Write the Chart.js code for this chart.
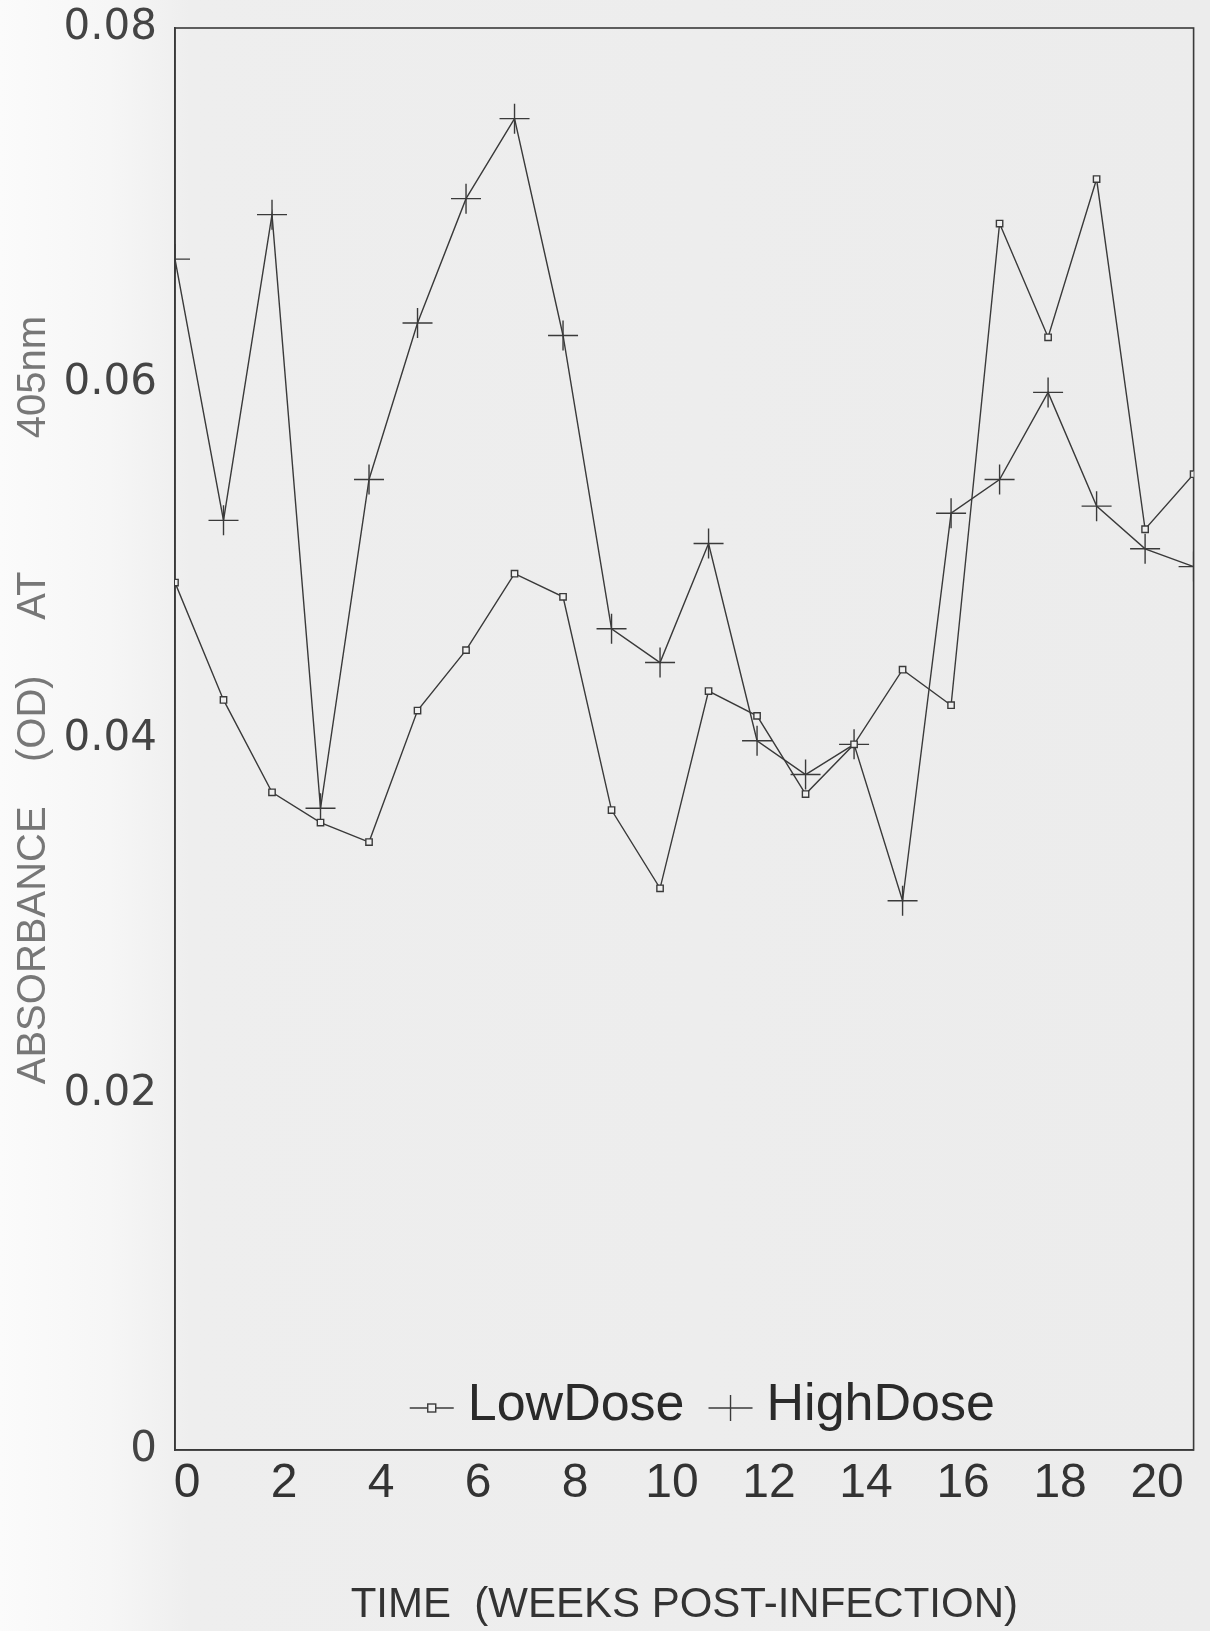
<!DOCTYPE html>
<html>
<head>
<meta charset="utf-8">
<script src="https://cdn.jsdelivr.net/npm/chart.js@4/dist/chart.umd.min.js"></script>
<style>
  html, body { margin: 0; padding: 0; }
  body {
    width: 1210px; height: 1631px; overflow: hidden;
    background: linear-gradient(to right, #fbfbfb 0px, #f6f6f6 110px, #eeeeee 190px, #ececec 100%);
  }
  canvas { display: block; }
</style>
</head>
<body>
<canvas id="c" width="1210" height="1631"></canvas>
<script>
// ---- data ----
const weeks = [0,1,2,3,4,5,6,7,8,9,10,11,12,13,14,15,16,17,18,19,20,21];
const lowDose = [0.0488,0.0422,0.0370,0.0353,0.0342,0.0416,0.0450,0.0493,0.0480,0.0360,0.0316,
                 0.0427,0.0413,0.0369,0.0397,0.0439,0.0419,0.0690,0.0626,0.0715,0.0518,0.0549];
const highDose = [0.0670,0.0523,0.0695,0.0361,0.0546,0.0634,0.0704,0.0749,0.0627,0.0462,0.0443,
                  0.0510,0.0399,0.0380,0.0397,0.0309,0.0527,0.0546,0.0595,0.0531,0.0507,0.0497];
const seriesNames = ['LowDose', 'HighDose'];
const xTickValues = [0,2,4,6,8,10,12,14,16,18,20];
const xTitle = 'TIME  (WEEKS POST-INFECTION)';
const yTitle = '       ABSORBANCE    (OD)     AT            405nm';
const xMax = 21;
const yMax = 0.08;
const yStep = 0.02;

const ink = '#3a3a3a';
const pts = (ys) => weeks.map((w, i) => ({x: w, y: ys[i]}));

const framePlugin = {
  id: 'frame',
  beforeDatasetsDraw(chart) {
    const a = chart.chartArea, ctx = chart.ctx;
    ctx.save();
    ctx.strokeStyle = ink;
    ctx.lineWidth = 1.6;
    ctx.strokeRect(a.left, a.top, a.right - a.left, a.bottom - a.top);
    ctx.restore();
  }
};

const innerLegend = {
  id: 'innerLegend',
  afterDatasetsDraw(chart) {
    const ctx = chart.ctx, a = chart.chartArea;
    const font = '52px "Liberation Sans", Arial, sans-serif';
    ctx.save();
    ctx.font = font;
    const lineW = 44, gapAfterLine = 14, gapItems = 24;
    const items = chart.data.datasets.map(ds => ({ds, tw: ctx.measureText(ds.label).width}));
    const total = items.reduce((s, it) => s + lineW + gapAfterLine + it.tw, 0) + gapItems * (items.length - 1);
    let x = (a.left + a.right) / 2 + 18 - total / 2;
    const y = a.bottom - 42;
    items.forEach((it) => {
      const ds = it.ds;
      ctx.strokeStyle = ink; ctx.lineWidth = 1.4;
      ctx.beginPath(); ctx.moveTo(x, y); ctx.lineTo(x + lineW, y); ctx.stroke();
      const cx = x + lineW / 2;
      if (ds.pointStyle === 'rect') {
        ctx.fillStyle = '#f0f0f0';
        ctx.fillRect(cx - 4, y - 4, 8, 8);
        ctx.strokeRect(cx - 4, y - 4, 8, 8);
      } else {
        ctx.beginPath();
        ctx.moveTo(cx, y - 13); ctx.lineTo(cx, y + 13);
        ctx.stroke();
      }
      x += lineW + gapAfterLine;
      ctx.fillStyle = '#2a2a2a';
      ctx.textBaseline = 'middle';
      ctx.textAlign = 'left';
      ctx.fillText(ds.label, x, y - 2);
      x += it.tw + gapItems;
    });
    ctx.restore();
  }
};

new Chart(document.getElementById('c'), {
  type: 'line',
  data: {
    datasets: [
      {
        label: seriesNames[0],
        data: pts(lowDose),
        borderColor: ink,
        borderWidth: 1.4,
        pointStyle: 'rect',
        pointRadius: 4.5,
        pointBackgroundColor: '#f0f0f0',
        pointBorderColor: ink,
        pointBorderWidth: 1.4,
        tension: 0,
        fill: false
      },
      {
        label: seriesNames[1],
        data: pts(highDose),
        borderColor: ink,
        borderWidth: 1.4,
        pointStyle: 'cross',
        pointRadius: 15,
        pointBorderColor: ink,
        pointBorderWidth: 1.4,
        tension: 0,
        fill: false
      }
    ]
  },
  options: {
    responsive: false,
    animation: false,
    layout: { padding: { left: 6, right: 10, top: 28, bottom: 0 } },
    plugins: { legend: { display: false }, tooltip: { enabled: false } },
    scales: {
      x: {
        type: 'linear',
        min: 0, max: xMax,
        grid: { display: false, drawTicks: false },
        border: { display: true, color: ink, width: 1.6 },
        afterBuildTicks(scale) { scale.ticks = xTickValues.map(v => ({value: v})); },
        afterFit(scale) { scale.height = 181; scale.paddingLeft = 0; scale.paddingRight = 0; },
        ticks: {
          autoSkip: false,
          maxRotation: 0,
          labelOffset: 12,
          padding: 10,
          color: '#333',
          font: { family: '"Liberation Sans Narrow", "Liberation Sans", Arial, sans-serif', size: 48, lineHeight: 1 }
        },
        title: {
          display: true,
          text: xTitle,
          color: '#333',
          padding: { top: 0, bottom: 0 },
          font: { family: '"Liberation Sans", Arial, sans-serif', size: 42 }
        }
      },
      y: {
        min: 0, max: yMax,
        grid: { display: false, drawTicks: false },
        border: { display: true, color: ink, width: 1.6 },
        afterFit(scale) { scale.width = 169; scale.paddingTop = 0; scale.paddingBottom = 0; },
        ticks: {
          stepSize: yStep,
          padding: 18,
          color: '#444',
          font: { family: '"DejaVu Sans", sans-serif', size: 42, lineHeight: 1 }
        },
        title: {
          display: true,
          text: yTitle,
          color: '#777',
          padding: { top: 4, bottom: 0 },
          font: { family: '"Liberation Sans", Arial, sans-serif', size: 40 }
        }
      }
    }
  },
  plugins: [framePlugin, innerLegend]
});
</script>
</body>
</html>
